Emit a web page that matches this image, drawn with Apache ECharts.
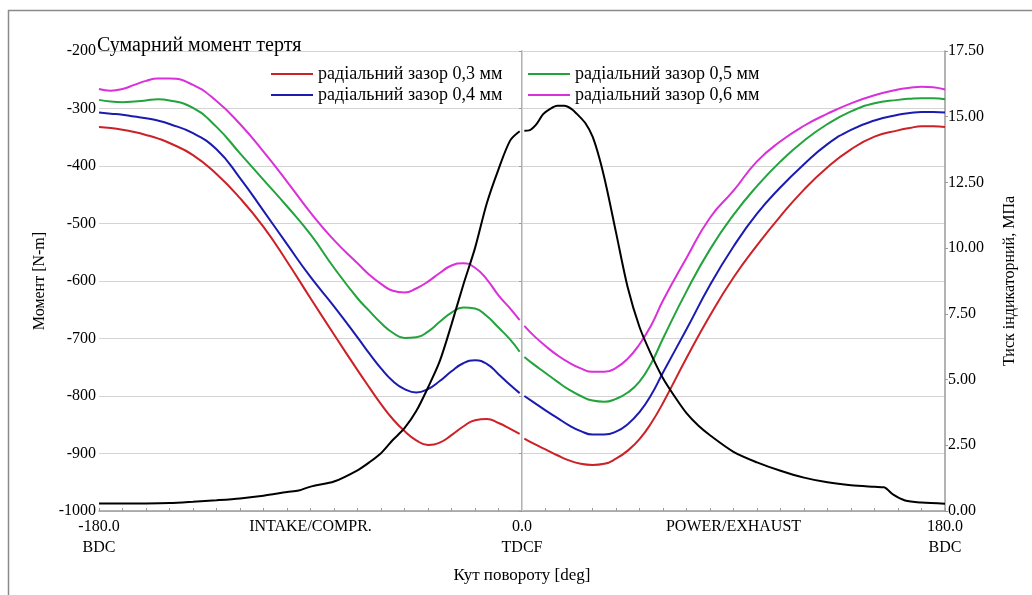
<!DOCTYPE html>
<html lang="uk">
<head>
<meta charset="UTF-8">
<title>Сумарний момент тертя</title>
<style>
    *{
        margin: 0;
        padding: 0;
    }
    body{
        background: #fff;
    }
    .main{
        width: 1032px;
        height: 595px;
    }
</style>
<script src="https://cdn.jsdelivr.net/npm/echarts@6/dist/echarts.min.js"></script>
</head>
<body>
<div class="main"></div>
<script>
    // кут повороту, град (null at 0 = розрив на ВМТ)
    const angles = [-180,-175,-170,-165,-160,-155,-150,
        -140,-130,-120,-110,-100,-90,-80,-70,
        -65,-60,-55,-50,-45,-40,-35,-30,-25,-20,-15,-10,-5,
        -1,0,1,
        5,10,15,20,25,30,35,40,45,50,55,60,
        70,80,90,100,110,120,130,140,150,160,
        165,170,175,180];

    // сумарний момент тертя, N-m
    const gap03 = [-332,-334,-337,-341,-346,-352,-360,
        -381,-414,-456,-506,-566,-630,-693,-755,
        -785,-814,-840,-861,-877,-885,-881,-868,-853,-842,-840,-847,-857,
        -866,null,-874,
        -883,-893,-903,-912,-918,-920,-918,-909,-895,-875,-847,-812,
        -734,-660,-594,-538,-487,-441,-402,-371,-349,-338,
        -334,-331,-331,-332];
    const gap04 = [-307,-309,-311,-314,-317,-321,-327,
        -343,-371,-421,-478,-536,-593,-644,-698,
        -726,-752,-774,-788,-794,-788,-774,-757,-743,-738,-744,-762,-781,
        -795,null,-800,
        -811,-825,-838,-851,-861,-867,-867,-862,-849,-828,-798,-759,
        -684,-607,-540,-483,-437,-397,-362,-337,-321,-311,
        -308,-306,-306,-307];
    const gap05 = [-285,-288,-289,-288,-286,-284,-286,
        -299,-332,-378,-424,-470,-519,-577,-630,
        -652,-673,-690,-699,-698,-688,-671,-655,-646,-648,-661,-681,-702,
        -723,null,-732,
        -745,-760,-775,-789,-800,-808,-810,-805,-794,-775,-743,-700,
        -618,-545,-485,-435,-392,-356,-327,-305,-291,-285,
        -283,-282,-282,-284];
    const gap06 = [-266,-269,-266,-259,-252,-248,-248,
        -259,-287,-327,-375,-427,-481,-529,-569,
        -589,-605,-617,-620,-613,-601,-586,-573,-569,-577,-597,-625,-648,
        -668,null,-678,
        -695,-713,-729,-742,-752,-758,-758,-751,-735,-710,-677,-634,
        -560,-490,-443,-392,-357,-330,-309,-291,-277,-267,
        -264,-262,-263,-267];

    // тиск індикаторний, МПа
    const pAngles = [-180,-170,-160,-150,-140,-130,-120,-110,-100,-95,-91,-88,-80,-70,-65,-60,-55,-50,-45,-40,-35,-30,-25,-20,-15,-10,-5,-1,0,
        1,3,6,9,12,15,18,21,24,27,30,33,36,40,45,50,55,60,65,70,75,80,90,100,110,120,130,140,150,154,158,163,170,180];
    const pressure = [0.29,0.29,0.29,0.30,0.35,0.41,0.48,0.58,0.72,0.78,0.90,0.97,1.12,1.55,1.85,2.2,2.7,3.15,3.8,4.7,5.7,7.1,8.6,10.0,11.7,13.0,14.1,14.45,null,
        14.47,14.48,14.7,15.1,15.3,15.42,15.42,15.3,15.05,14.75,14.25,13.4,12.3,10.6,8.5,7.0,5.95,5.05,4.35,3.72,3.25,2.88,2.25,1.85,1.53,1.27,1.09,0.98,0.92,0.9,0.62,0.4,0.32,0.28];

    const names = ['радіальний зазор 0,3 мм','радіальний зазор 0,4 мм','радіальний зазор 0,5 мм','радіальний зазор 0,6 мм'];
    const colors = ['#cc2127','#1b1bb0','#22a33c','#d930d9'];
    const xLabelVals = [-180, -90, 0, 90, 180];
    const xLabelText = ['-180.0\nBDC', 'INTAKE/COMPR.', '0.0\nTDCF', 'POWER/EXHAUST', '180.0\nBDC'];

    const font = 'Liberation Serif';

    function pairs(xs, ys){
        return xs.map((x, i) => [x, ys[i] == null ? '-' : ys[i]]);
    }

    let main = document.querySelector('.main');
    let chart = echarts.init(main);

    let series = [gap03, gap04, gap05, gap06].map((vals, i) => ({
        name: names[i],
        type: 'line',
        data: pairs(angles, vals),
        smooth: 0.5,
        showSymbol: false,
        connectNulls: false,
        lineStyle: {color: colors[i], width: 2},
        itemStyle: {color: colors[i]}
    }));
    series[0].markLine = {
        silent: true,
        symbol: ['none', 'none'],
        label: {show: false},
        lineStyle: {color: '#d4d4d4', type: 'solid', width: 1},
        data: [{xAxis: 0}]
    };
    series.push({
        name: 'тиск',
        type: 'line',
        yAxisIndex: 1,
        data: pairs(pAngles, pressure),
        smooth: 0.3,
        showSymbol: false,
        connectNulls: false,
        lineStyle: {color: '#000', width: 2},
        itemStyle: {color: '#000'}
    });

    let legendBase = {
        orient: 'vertical',
        top: 60,
        icon: 'rect',
        itemWidth: 42,
        itemHeight: 2,
        itemGap: 3,
        textStyle: {fontFamily: font, fontSize: 18, color: '#000', lineHeight: 17}
    };

    let option = {
        animation: false,
        backgroundColor: '#fff',
        textStyle: {fontFamily: font},
        title: {
            text: 'Сумарний момент тертя',
            left: 92,
            top: 31,
            textStyle: {fontFamily: font, fontSize: 20, fontWeight: 'normal', color: '#000'}
        },
        legend: [
            Object.assign({left: 266, data: [names[0], names[1]]}, legendBase),
            Object.assign({left: 523, data: [names[2], names[3]]}, legendBase)
        ],
        graphic: [{
            type: 'rect',
            shape: {x: 8.5, y: 10.5, width: 1100, height: 700},
            style: {fill: 'none', stroke: '#8a8a8a', lineWidth: 1.5},
            silent: true
        }],
        grid: {left: 99, right: 87, top: 51, bottom: 84},
        xAxis: {
            type: 'value',
            min: -180,
            max: 180,
            interval: 10,
            name: 'Кут повороту [deg]',
            nameLocation: 'middle',
            nameGap: 56,
            nameTextStyle: {fontFamily: font, fontSize: 17, color: '#000'},
            axisLine: {onZero: false, lineStyle: {color: '#9a9a9a', width: 1.5}},
            axisTick: {inside: true, length: 3, lineStyle: {color: '#9a9a9a'}},
            splitLine: {show: false},
            axisLabel: {
                margin: 5,
                fontFamily: font,
                fontSize: 16,
                color: '#000',
                lineHeight: 21,
                formatter: function (v) {
                    let i = xLabelVals.indexOf(v);
                    return i < 0 ? '' : xLabelText[i];
                }
            }
        },
        yAxis: [{
            type: 'value',
            min: -1000,
            max: -200,
            interval: 100,
            name: 'Момент [N-m]',
            nameLocation: 'middle',
            nameRotate: 90,
            nameGap: 46,
            nameTextStyle: {fontFamily: font, fontSize: 16, color: '#000'},
            axisLine: {show: true, lineStyle: {color: '#9a9a9a', width: 1.5}},
            axisTick: {show: true, length: 3, lineStyle: {color: '#9a9a9a'}},
            splitLine: {lineStyle: {color: '#d4d4d4', width: 1}},
            axisLabel: {
                margin: 3, fontFamily: font, fontSize: 16, color: '#000',
                formatter: v => String(v)
            }
        }, {
            type: 'value',
            position: 'right',
            min: 0,
            max: 17.5,
            interval: 2.5,
            name: 'Тиск індикаторний, МПа',
            nameLocation: 'middle',
            nameRotate: 90,
            nameGap: 57,
            nameTextStyle: {fontFamily: font, fontSize: 16, color: '#000'},
            axisLine: {show: true, lineStyle: {color: '#9a9a9a', width: 1.5}},
            axisTick: {show: true, length: 3, lineStyle: {color: '#9a9a9a'}},
            splitLine: {show: false},
            axisLabel: {
                margin: 3, fontFamily: font, fontSize: 16, color: '#000',
                formatter: v => v.toFixed(2)
            }
        }],
        series
    };
    chart.setOption(option);
</script>
</body>
</html>
